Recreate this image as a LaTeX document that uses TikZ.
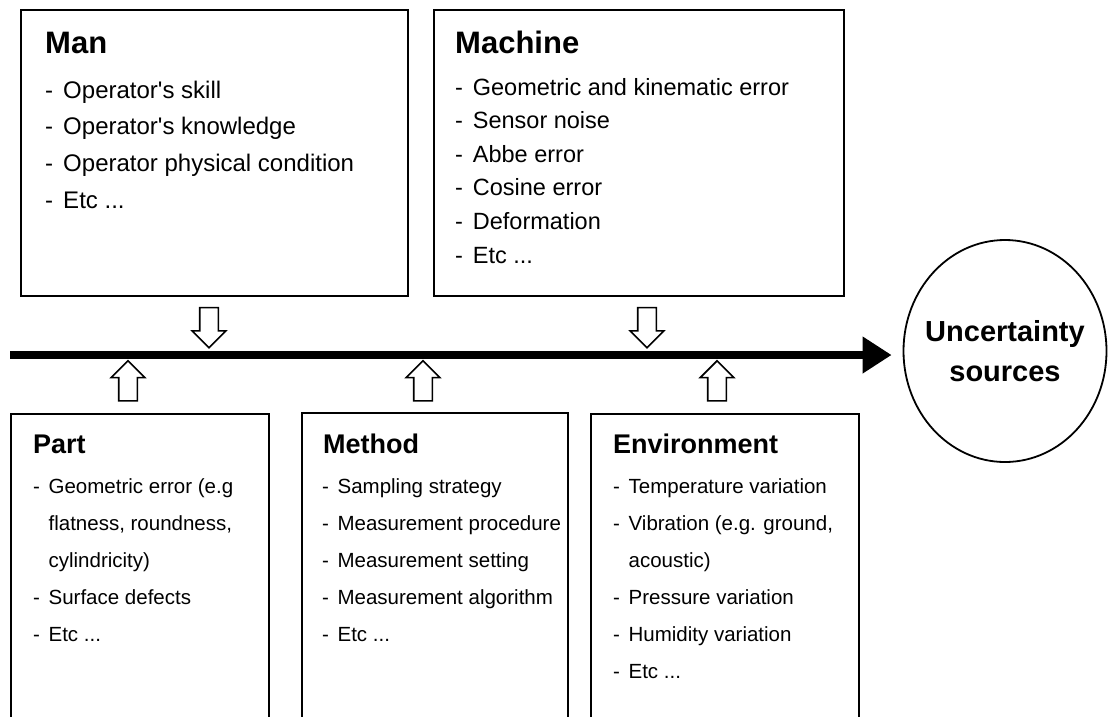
\documentclass[tikz,border=0pt]{standalone}
\usepackage{fontspec}
\setmainfont{Liberation Sans}
\usetikzlibrary{arrows.meta,shapes.geometric,shapes.arrows}

\tikzset{
  srcbox/.style={draw, line width=1.8pt, anchor=north west, inner sep=0pt},
  srctitle/.style={anchor=base west, inner sep=0pt, font=\bfseries\fontsize{#1}{#1}\selectfont},
  srclist/.style 2 args={anchor=base west, inner sep=0pt, font=\fontsize{#1}{#2}\selectfont},
  feed/.style={single arrow, draw, line width=1.6pt, inner xsep=0pt, inner ysep=8.5pt,
    minimum width=0pt, minimum height=40pt, single arrow head extend=7.5pt},
  mainflow/.style={line width=8pt, -{Triangle[length=29pt,width=35pt]}}
}
\newcommand{\srcitems}[1]{\begin{tabular}[t]{@{}l@{\hspace{0.42em}}l@{}}#1\end{tabular}}

\begin{document}
\begin{tikzpicture}[x=1pt,y=-1pt]
\path[use as bounding box, clip] (0,0) rectangle (1108,716);

% upper boxes
\node[srcbox, minimum width=387pt, minimum height=286pt] (man) at (20,9) {};
\node[srctitle=31] (mantitle) at (45,53) {Man};
\node[srclist={24}{36.7}] (manlist) at (45,98) {\srcitems{
  - & Operator\textquotesingle s skill \\
  - & Operator\textquotesingle s knowledge \\
  - & Operator physical condition \\
  - & Etc ...}};

\node[srcbox, minimum width=410pt, minimum height=286pt] (machine) at (433,9) {};
\node[srctitle=31] (machinetitle) at (455,53) {Machine};
\node[srclist={23.5}{33.6}] (machinelist) at (455,95) {\srcitems{
  - & Geometric and kinematic error \\
  - & Sensor noise \\
  - & Abbe error \\
  - & Cosine error \\
  - & Deformation \\
  - & Etc ...}};

% lower boxes
\node[srcbox, minimum width=258pt, minimum height=330pt] (part) at (10,413) {};
\node[srctitle=27] (parttitle) at (33,453) {Part};
\node[srclist={20.5}{37}] (partlist) at (33,493) {\srcitems{
  - & Geometric error (e.g \\
    & flatness, roundness, \\
    & cylindricity) \\
  - & Surface defects \\
  - & Etc ...}};

\node[srcbox, minimum width=266pt, minimum height=330pt] (method) at (301,412) {};
\node[srctitle=27] (methodtitle) at (323,453) {Method};
\node[srclist={20.5}{37}] (methodlist) at (322,493) {\srcitems{
  - & Sampling strategy \\
  - & Measurement procedure \\
  - & Measurement setting \\
  - & Measurement algorithm \\
  - & Etc ...}};

\node[srcbox, minimum width=268pt, minimum height=330pt] (env) at (590,413) {};
\node[srctitle=27] (envtitle) at (613,453) {Environment};
\node[srclist={20.5}{37}] (envlist) at (613,493) {\srcitems{
  - & Temperature variation \\
  - & Vibration (e.g. ground, \\
    & acoustic) \\
  - & Pressure variation \\
  - & Humidity variation \\
  - & Etc ...}};

% result
\node[ellipse, draw, line width=1.8pt, inner sep=0pt, minimum width=203pt,
  minimum height=222pt] (uncert) at (1005,351) {};
\node[align=center, inner sep=0pt, font=\bfseries\fontsize{29}{40}\selectfont]
  (uncerttext) at (uncert.center) {Uncertainty\\sources};

% main line
\coordinate (flowstart) at (10,355);
\draw[mainflow, shorten >=11pt] (flowstart) -- (flowstart -| uncert.west);

% hollow arrows
\node[feed, rotate=-90] (manfeed) at (209,323) {};
\node[feed, rotate=-90] (machinefeed) at (647,323) {};
\node[feed, rotate=90] (partfeed) at (128,385.5) {};
\node[feed, rotate=90] (methodfeed) at (423,385.5) {};
\node[feed, rotate=90] (envfeed) at (717,385.5) {};
\end{tikzpicture}
\end{document}
